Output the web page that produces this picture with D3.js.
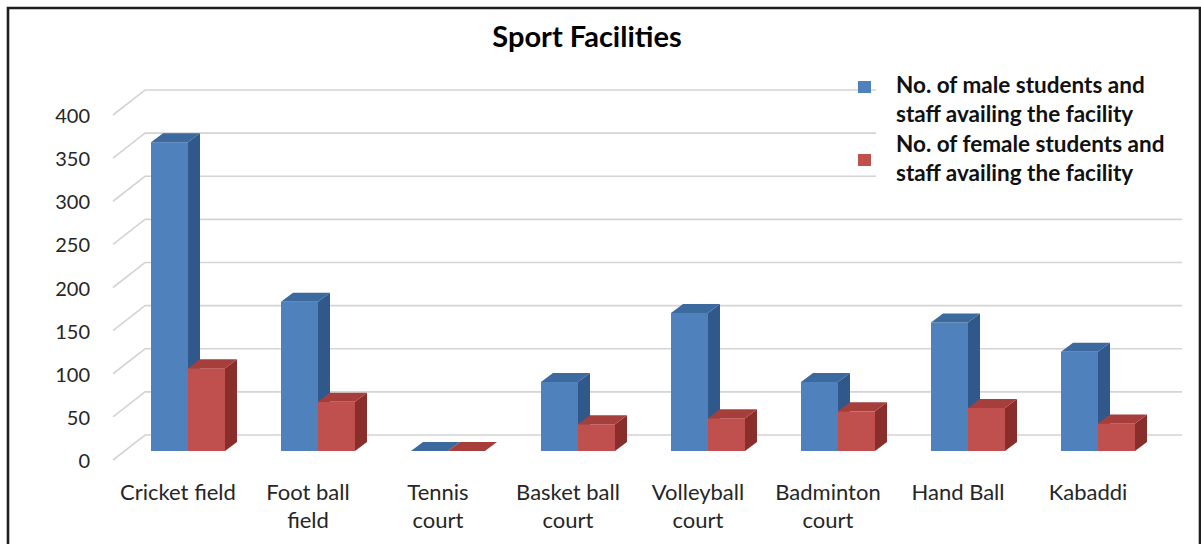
<!DOCTYPE html>
<html>
<head>
<meta charset="utf-8">
<script src="https://cdn.jsdelivr.net/npm/d3@7/dist/d3.min.js"></script>
<style>
  html, body { margin: 0; padding: 0; background: #fff; }
  svg { display: block; font-family: Lato, "Open Sans", sans-serif; }
</style>
</head>
<body>
<svg id="chart" width="1201" height="544"></svg>
<script>
const categories = ["Cricket field", "Foot ball field", "Tennis court", "Basket ball court",
                    "Volleyball court", "Badminton court", "Hand Ball", "Kabaddi"];
const categoryLines = [["Cricket field"], ["Foot ball", "field"], ["Tennis", "court"], ["Basket ball", "court"],
                       ["Volleyball", "court"], ["Badminton", "court"], ["Hand Ball"], ["Kabaddi"]];
const maleValues   = [358, 173, 0, 80, 160, 80, 149, 115];
const femaleValues = [96, 57, 0, 31, 38, 46, 50, 32];
const seriesNames = ["No. of male students and staff availing the facility",
                     "No. of female students and staff availing the facility"];
const legendLines = [["No. of male students and", "staff availing the facility"],
                     ["No. of female students and", "staff availing the facility"]];
const yTicks = [0, 50, 100, 150, 200, 250, 300, 350, 400];
const title = "Sport Facilities";

const colors = [
  { front: "#4f81bd", side: "#30588a", top: "#3d6a9e" },
  { front: "#c0504d", side: "#8a2e2c", top: "#a63f3c" }
];

const svg = d3.select("#chart");

// frame
svg.append("rect").attr("x", 0).attr("y", 0).attr("width", 1201).attr("height", 544).attr("fill", "#fff");
svg.append("path").attr("d", "M8,544 L8,8 L1200,8 L1200,544").attr("fill", "none").attr("stroke", "#1e1e1e").attr("stroke-width", 2.6);

// scales
const wallDX = 32, wallDY = 25;
const yBack = d3.scaleLinear().domain([0, 400]).range([435, 90]);
const yBar = d3.scaleLinear().domain([0, 400]).range([451, 106]);
const x = d3.scaleBand().domain(categories).range([123, 1163]).paddingInner(0.4308).paddingOuter(0.2154);
const xs = d3.scaleBand().domain([0, 1]).range([0, x.bandwidth()]);
const depthX = 12, depthY = -9;

// gridlines: back wall + side wall
const grid = svg.append("g").attr("stroke", "#d4d4d4").attr("stroke-width", 1.6).attr("fill", "none");
yTicks.forEach(t => {
  const yb = yBack(t);
  grid.append("path").attr("d", `M${145 - wallDX},${yb + wallDY} L145,${yb} L1182,${yb}`);
});

// y labels
svg.append("g").selectAll("text").data(yTicks).join("text")
  .attr("x", 90).attr("y", d => yBack(d) + wallDY)
  .attr("text-anchor", "end").attr("dominant-baseline", "central")
  .attr("font-size", 20).attr("fill", "#262626")
  .text(d => d);

// bars
const series = [maleValues, femaleValues];
const barsG = svg.append("g");
categories.forEach((cat, i) => {
  series.forEach((vals, s) => {
    const v = vals[i];
    const x0 = x(cat) + xs(s);
    const w = xs.bandwidth();
    const yt = yBar(v);
    const base = yBar(0);
    const c = colors[s];
    const g = barsG.append("g");
    if (base - yt > 0) {
      g.append("rect").attr("x", x0).attr("y", yt).attr("width", w).attr("height", base - yt).attr("fill", c.front);
      g.append("path").attr("d",
        `M${x0 + w},${yt} L${x0 + w + depthX},${yt + depthY} L${x0 + w + depthX},${base + depthY} L${x0 + w},${base} Z`)
        .attr("fill", c.side);
    }
    g.append("path").attr("d",
      `M${x0},${yt} L${x0 + depthX},${yt + depthY} L${x0 + w + depthX},${yt + depthY} L${x0 + w},${yt} Z`)
      .attr("fill", c.top);
  });
});

// x labels
const xl = svg.append("g").attr("font-size", 22).attr("fill", "#262626").attr("text-anchor", "middle");
categories.forEach((cat, i) => {
  const cx = x(cat) + x.bandwidth() / 2 - 10;
  categoryLines[i].forEach((line, j) => {
    xl.append("text").attr("x", cx).attr("y", 491 + j * 28).attr("dominant-baseline", "central").text(line);
  });
});

// title
svg.append("text").attr("x", 587).attr("y", 35).attr("text-anchor", "middle").attr("dominant-baseline", "central")
  .attr("font-size", 29).attr("font-weight", "bold").attr("fill", "#000").text(title);

// legend
const lg = svg.append("g");
lg.append("rect").attr("x", 876).attr("y", 66).attr("width", 314).attr("height", 122).attr("fill", "#fff");
const legendY = [[84, 113], [143, 172]];
const squareY = [81, 154];
seriesNames.forEach((name, s) => {
  lg.append("rect").attr("x", 858).attr("y", squareY[s]).attr("width", 13).attr("height", 12).attr("fill", colors[s].front);
  legendLines[s].forEach((line, j) => {
    lg.append("text").attr("x", 896).attr("y", legendY[s][j]).attr("dominant-baseline", "central")
      .attr("font-size", 22.5).attr("font-weight", "bold").attr("fill", "#111").text(line);
  });
});
</script>
</body>
</html>
